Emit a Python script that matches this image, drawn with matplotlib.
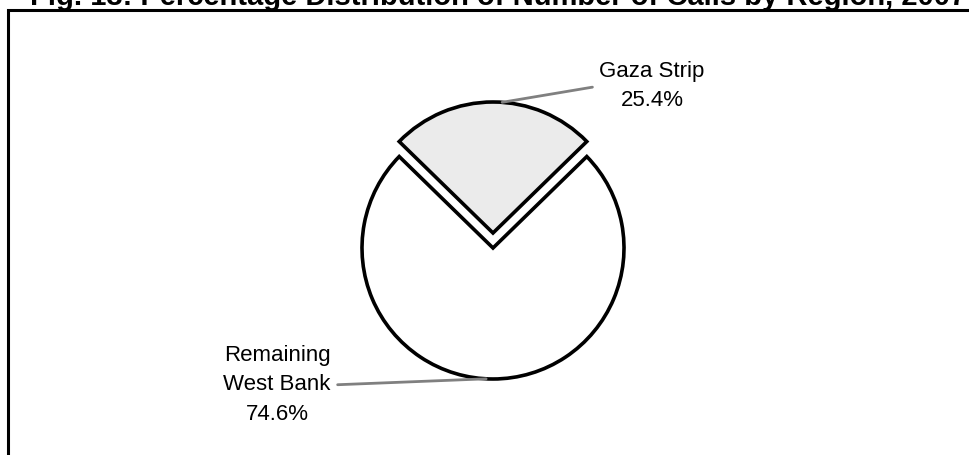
import numpy as np
import matplotlib
matplotlib.use("Agg")
import matplotlib.pyplot as plt
from matplotlib.patches import Rectangle

# Data
regions = ["Gaza Strip", "Remaining\nWest Bank"]
shares = [25.4, 74.6]
fills = ["#ebebeb", "white"]
explode = [15, 0]                 # pie() adds this in data units
label_angles = [86, 267]          # where the leader lines touch the pie
label_pos = [(652, 369), (277, 70)]
label_relpos = [(0.0, 0.5), (1.0, 0.5)]

title = "Fig. 13: Percentage Distribution of Number of Calls by Region, 2007"

plt.rcParams["font.family"] = ["Liberation Sans", "DejaVu Sans"]

W, H = 970, 455
fig = plt.figure(figsize=(W / 100, H / 100), dpi=100)
ax = fig.add_axes([0, 0, 1, 1])

# frame of the chart area (runs off the right and bottom)
ax.add_patch(Rectangle((8, -20), W + 40, H - 10 + 20, fill=False,
                       edgecolor="black", lw=2.2, clip_on=False))

# title, mostly cut off at the top
fig.text(30 / W, (H - 5) / H, title, fontsize=21, fontweight="bold",
         ha="left", va="baseline")

center = (493, 207)
radius = 131
start = 90 - shares[0] * 3.6 / 2
wedges, _ = ax.pie(shares, colors=fills, explode=explode, startangle=start,
                   center=center, radius=radius, frame=True,
                   wedgeprops=dict(edgecolor="black", linewidth=2.6))
ax.set_xlim(0, W)
ax.set_ylim(0, H)
ax.set_aspect("auto")
ax.axis("off")

for i, w in enumerate(wedges):
    cx, cy = w.center
    a = np.deg2rad(label_angles[i])
    pt = (cx + radius * np.cos(a), cy + radius * np.sin(a))
    ax.annotate(f"{regions[i]}\n{shares[i]:.1f}%", xy=pt, xytext=label_pos[i],
                ha="center", va="center", fontsize=16, linespacing=1.5,
                arrowprops=dict(arrowstyle="-", color="#808080", lw=2,
                                shrinkA=3, shrinkB=0, relpos=label_relpos[i]))

fig.savefig("out.png", dpi=100)
